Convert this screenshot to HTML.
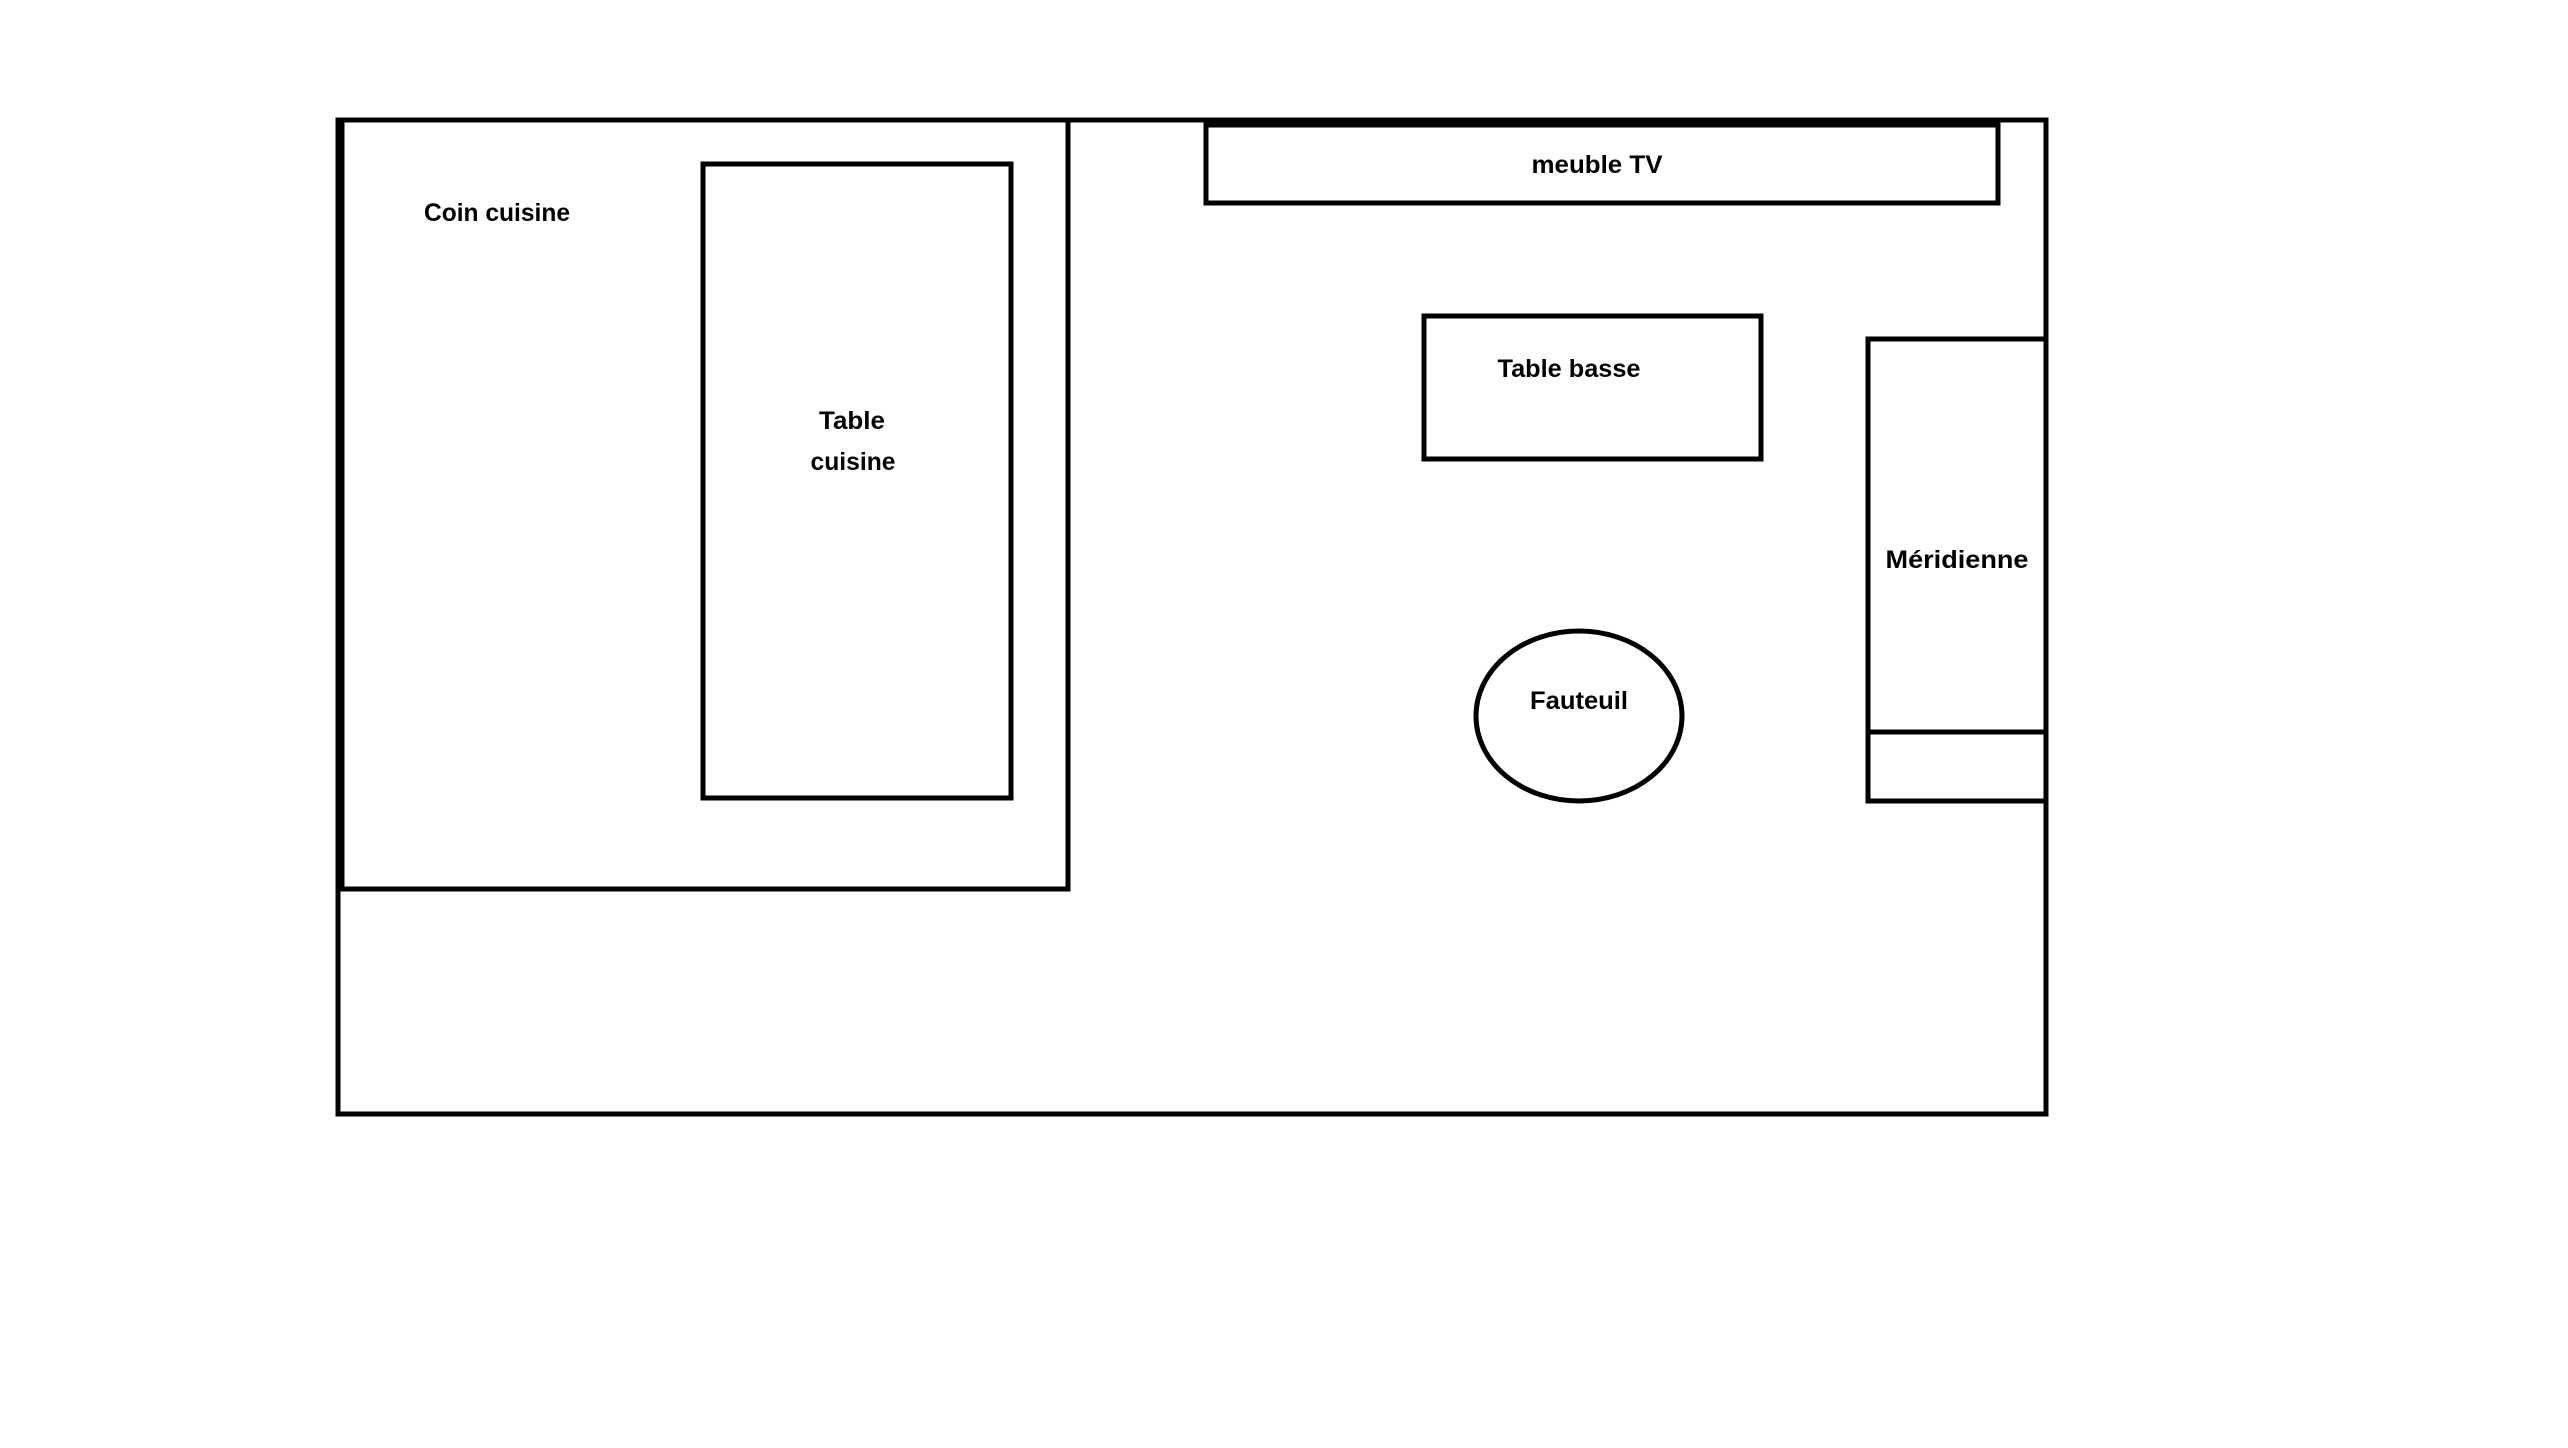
<!DOCTYPE html>
<html><head><meta charset="utf-8"><style>html,body{margin:0;padding:0;background:#fff}svg{display:block}</style></head>
<body>
<svg width="2568" height="1448" viewBox="0 0 2568 1448" xmlns="http://www.w3.org/2000/svg">
<rect x="0" y="0" width="2568" height="1448" fill="#fff"/>
<g fill="none" stroke="#000" stroke-width="5">
<rect x="338" y="120" width="1708" height="994"/>
<rect x="341" y="120" width="727" height="769"/>
<line x1="341" y1="120" x2="341" y2="889" stroke-width="7"/>
<rect x="703" y="164" width="308" height="634"/>
<rect x="1206" y="125" width="792" height="78"/>
<line x1="1206" y1="121" x2="1998" y2="121" stroke-width="7"/>
<rect x="1424" y="316" width="337" height="143"/>
<rect x="1868" y="339" width="178" height="393"/>
<rect x="1868" y="732" width="178" height="69"/>
<ellipse cx="1579" cy="716" rx="103" ry="85"/>
</g>
<g font-family="Liberation Sans, sans-serif" font-weight="bold" font-size="25" fill="#000" text-anchor="middle" dominant-baseline="central">
<text x="497" y="213" textLength="146" lengthAdjust="spacingAndGlyphs">Coin cuisine</text>
<text x="852" y="421" textLength="66" lengthAdjust="spacingAndGlyphs">Table</text>
<text x="853" y="462" textLength="85" lengthAdjust="spacingAndGlyphs">cuisine</text>
<text x="1597" y="165" textLength="131" lengthAdjust="spacingAndGlyphs">meuble TV</text>
<text x="1569" y="369" textLength="143" lengthAdjust="spacingAndGlyphs">Table basse</text>
<text x="1957" y="560" textLength="143" lengthAdjust="spacingAndGlyphs">Méridienne</text>
<text x="1579" y="701" textLength="98" lengthAdjust="spacingAndGlyphs">Fauteuil</text>
</g>
</svg>
</body></html>
